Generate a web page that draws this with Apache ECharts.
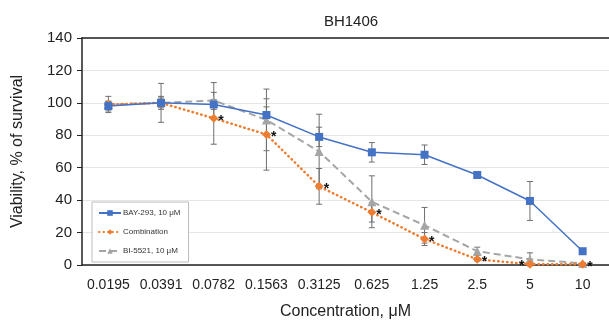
<!DOCTYPE html>
<html>
<head>
<meta charset="utf-8">
<script src="https://cdn.jsdelivr.net/npm/echarts@6/dist/echarts.min.js"></script>
<style>
  html, body { margin: 0; padding: 0; background: #fff; }
  #chart { width: 609px; height: 321px; }
</style>
</head>
<body>
<div id="chart"></div>
<script>
const concentrations = ['0.0195', '0.0391', '0.0782', '0.1563', '0.3125', '0.625', '1.25', '2.5', '5', '10'];
const yTicks = [0, 20, 40, 60, 80, 100, 120, 140];

const bay = [98, 100, 99, 92.5, 79, 69.5, 68, 55.5, 39.5, 8.5];
const bayErr = [3, 4, 3, 5, 6, 6, 6, 1.5, 12, 1];
const combo = [99, 100, 90.5, 80.5, 48.5, 32.5, 16, 3.5, 0.5, 0.5];
const comboErr = [2, 3, 16, 22, 11, 6, 4, 1, 0.5, 0.5];
const bi = [99, 100, 101.5, 89.5, 70, 39, 24.5, 8.5, 3.5, 1];
const biErr = [5, 12, 11, 19, 23, 16, 11, 2.5, 4, 0.5];
// significance marks next to the combination points
const sig = [false, false, true, true, true, true, true, true, true, true];

const chart = echarts.init(document.getElementById('chart'));
const FONT = 'Liberation Sans, Arial, sans-serif';

function errorSeries(vals, errs, z) {
  return {
    type: 'custom',
    z: z,
    silent: true,
    data: vals.map((v, i) => [i, v - errs[i], v + errs[i]]),
    renderItem(params, api) {
      const lo = api.coord([api.value(0), api.value(1)]);
      const hi = api.coord([api.value(0), api.value(2)]);
      const cap = 3;
      const style = { stroke: '#6f6f6f', lineWidth: 1 };
      return {
        type: 'group',
        children: [
          { type: 'line', shape: { x1: lo[0], y1: lo[1], x2: hi[0], y2: hi[1] }, style },
          { type: 'line', shape: { x1: lo[0] - cap, y1: lo[1], x2: lo[0] + cap, y2: lo[1] }, style },
          { type: 'line', shape: { x1: hi[0] - cap, y1: hi[1], x2: hi[0] + cap, y2: hi[1] }, style }
        ]
      };
    }
  };
}

const comboData = combo.map((v, i) => {
  if (!sig[i]) return v;
  const left = i === 8;
  return {
    value: v,
    label: {
      show: true,
      formatter: '*',
      position: left ? 'left' : 'right',
      offset: left ? [4, 2] : [-5, 3],
      color: '#111',
      fontSize: 14,
      fontWeight: 'bold',
      fontFamily: FONT
    }
  };
});

chart.setOption({
  animation: false,
  textStyle: { fontFamily: FONT },
  title: {
    text: 'BH1406',
    left: 346,
    top: 9,
    textAlign: 'center',
    textStyle: { fontSize: 15, fontWeight: 'normal', color: '#222', fontFamily: FONT }
  },
  grid: { left: 82, right: 0, top: 38, bottom: 56, outerBoundsMode: 'none', containLabel: false },
  legend: {
    orient: 'vertical',
    left: 92,
    top: 202,
    padding: [7, 8, 7, 6],
    itemGap: 11,
    itemWidth: 22,
    itemHeight: 7,
    borderColor: '#bdbdbd',
    borderWidth: 1,
    backgroundColor: '#fff',
    textStyle: { fontSize: 8, color: '#333', fontFamily: FONT, padding: [0, 0, 0, -3] },
    data: ['BAY-293, 10 μM', 'Combination', 'BI-5521, 10 μM']
  },
  xAxis: [{
    type: 'category',
    data: concentrations,
    name: 'Concentration, μM',
    nameLocation: 'middle',
    nameGap: 39,
    nameTextStyle: { fontSize: 16, color: '#222', fontFamily: FONT },
    axisLine: { lineStyle: { color: '#222', width: 1.5 } },
    axisTick: { alignWithLabel: true, length: 6, lineStyle: { color: '#222' } },
    axisLabel: { interval: 0, fontSize: 14, color: '#222', margin: 13, fontFamily: FONT }
  }, {
    type: 'category',
    data: concentrations,
    position: 'top',
    axisLine: { lineStyle: { color: '#222', width: 1.5 } },
    axisTick: { show: false },
    axisLabel: { show: false }
  }],
  yAxis: {
    type: 'value',
    min: yTicks[0],
    max: yTicks[yTicks.length - 1],
    interval: 20,
    name: 'Viability, % of survival',
    nameLocation: 'middle',
    nameGap: 56,
    nameTextStyle: { fontSize: 16, color: '#222', fontFamily: FONT },
    axisLine: { show: true, lineStyle: { color: '#222', width: 1.5 } },
    axisTick: { show: true, length: 5, lineStyle: { color: '#222' } },
    axisLabel: { fontSize: 15, color: '#222', margin: 10, fontFamily: FONT },
    splitLine: { lineStyle: { color: '#e6e6e6', width: 1 } }
  },
  series: [
    errorSeries(bay, bayErr, 1),
    errorSeries(combo, comboErr, 1),
    errorSeries(bi, biErr, 1),
    {
      name: 'BAY-293, 10 μM',
      type: 'line',
      z: 4,
      data: bay,
      symbol: 'rect',
      symbolSize: 8,
      color: '#4472c4',
      lineStyle: { width: 1.5, color: '#4472c4' },
      itemStyle: { color: '#4472c4' }
    },
    {
      name: 'Combination',
      type: 'line',
      z: 3,
      data: comboData,
      symbol: 'diamond',
      symbolSize: 9,
      color: '#ed7d31',
      lineStyle: { width: 2.5, color: '#ed7d31', type: [0.5, 4], cap: 'round' },
      itemStyle: { color: '#ed7d31' }
    },
    {
      name: 'BI-5521, 10 μM',
      type: 'line',
      z: 2,
      data: bi,
      symbol: 'triangle',
      symbolSize: 9,
      color: '#a5a5a5',
      lineStyle: { width: 2, color: '#a5a5a5', type: [7, 4] },
      itemStyle: { color: '#a5a5a5' }
    }
  ]
});
</script>
</body>
</html>
